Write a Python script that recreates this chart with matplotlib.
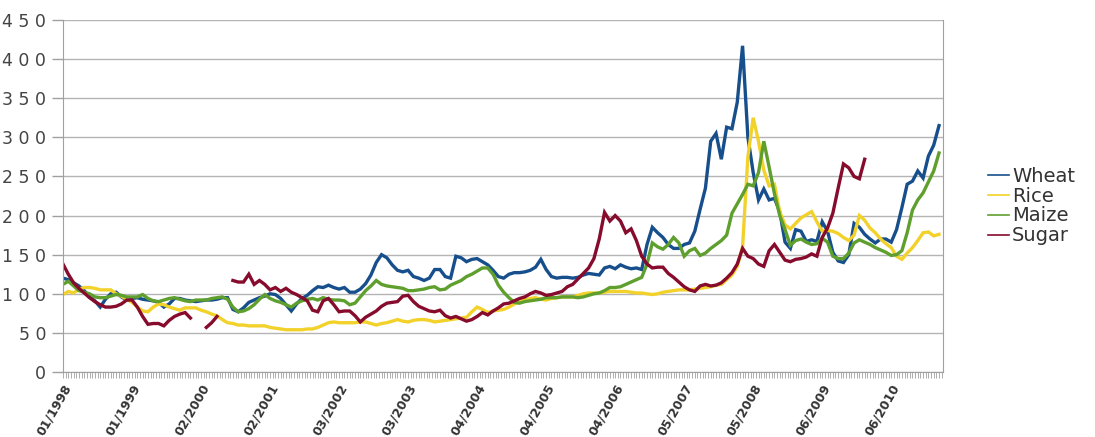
import numpy as np
import matplotlib
matplotlib.use("Agg")
import matplotlib.pyplot as plt

# weekly index (one sample every 4 weeks), week 0 = first week of 1998
weeks = list(range(0, 664, 4))
nan = float("nan")

wheat = [120, 118, 114, 110, 104, 96, 91, 83, 93, 100, 102, 96, 92, 94, 95, 93, 92, 91, 89, 83,
         87, 94, 94, 92, 91, 90, 91, 92, 92, 93, 95, 95, 80, 77, 82, 89, 92, 95, 97, 100,
         99, 94, 86, 78, 87, 94, 98, 104, 109, 108, 111, 108, 106, 108, 102, 102, 106, 113, 124, 140,
         150, 146, 137, 130, 128, 130, 122, 120, 117, 120, 131, 131, 122, 120, 148, 146, 141, 144, 145, 141,
         137, 130, 122, 120, 125, 127, 127, 128, 130, 134, 144, 131, 122, 120, 121, 121, 120, 121, 124, 126,
         125, 124, 133, 135, 132, 137, 134, 132, 133, 131, 163, 185, 178, 172, 163, 158, 158, 163, 165, 180,
         208, 235, 295, 305, 272, 313, 311, 345, 417, 300, 255, 220, 234, 220, 222, 205, 166, 158, 182, 180,
         167, 169, 167, 192, 180, 153, 142, 140, 150, 190, 185, 176, 170, 165, 170, 170, 166, 182, 210, 240,
         244, 257, 248, 276, 290, 315]

rice = [99, 103, 101, 106, 108, 108, 107, 105, 105, 105, 100, 97, 93, 89, 83, 78, 77, 83, 87, 86,
        83, 81, 79, 82, 82, 82, 79, 77, 74, 72, 67, 63, 62, 60, 60, 59, 59, 59, 59, 57,
        56, 55, 54, 54, 54, 54, 55, 55, 57, 60, 63, 64, 63, 63, 63, 63, 64, 64, 62, 60,
        62, 63, 65, 67, 65, 64, 66, 67, 67, 66, 64, 65, 66, 67, 68, 69, 70, 77, 83, 80,
        76, 78, 79, 80, 83, 87, 90, 92, 94, 95, 93, 92, 94, 95, 96, 96, 96, 98, 100, 101,
        101, 101, 102, 103, 103, 103, 103, 102, 101, 101, 100, 99, 100, 102, 103, 104, 105, 105, 105, 106,
        107, 108, 109, 111, 112, 118, 124, 135, 160, 275, 325, 295, 258, 238, 240, 205, 188, 183, 190, 197,
        201, 205, 192, 180, 181, 180, 177, 172, 168, 175, 200, 194, 184, 178, 170, 164, 159, 148, 144, 152,
        159, 168, 178, 179, 174, 176]

maize = [112, 116, 110, 104, 102, 100, 96, 95, 95, 97, 99, 98, 96, 96, 96, 99, 94, 91, 90, 92,
         94, 95, 93, 91, 90, 92, 92, 92, 94, 95, 96, 93, 83, 77, 78, 81, 86, 93, 99, 94,
         91, 89, 86, 83, 88, 91, 93, 94, 92, 95, 93, 92, 92, 91, 86, 88, 96, 104, 110, 117,
         112, 110, 109, 108, 107, 104, 104, 105, 106, 108, 109, 105, 106, 111, 114, 117, 122, 125, 129, 133,
         133, 125, 111, 102, 95, 89, 88, 90, 91, 92, 93, 95, 95, 95, 96, 96, 96, 95, 96, 98,
         100, 101, 104, 108, 108, 109, 112, 115, 118, 121, 138, 165, 160, 157, 163, 172, 165, 148, 155, 158,
         149, 152, 158, 163, 168, 175, 203, 215, 227, 240, 238, 255, 295, 262, 228, 200, 182, 162, 168, 170,
         166, 163, 164, 171, 166, 148, 145, 145, 152, 165, 169, 166, 163, 159, 156, 153, 149, 150, 155, 178,
         207, 220, 229, 243, 257, 280]

sugar = [138, 125, 114, 107, 101, 95, 90, 86, 83, 83, 84, 87, 92, 92, 83, 71, 61, 62, 62, 59,
         66, 71, 74, 76, 69, nan, nan, 57, 63, 71, nan, nan, 117, 115, 115, 125, 112, 117, 112, 105,
         108, 103, 107, 102, 99, 95, 91, 79, 77, 91, 94, 86, 77, 78, 78, 72, 64, 70, 74, 78,
         84, 88, 89, 90, 97, 98, 90, 84, 81, 78, 77, 79, 72, 69, 71, 68, 65, 67, 71, 76,
         73, 78, 82, 87, 88, 91, 94, 96, 100, 103, 101, 98, 99, 101, 103, 109, 112, 119, 126, 133,
         145, 170, 204, 193, 200, 193, 178, 183, 168, 148, 138, 133, 134, 134, 126, 121, 115, 109, 105, 103,
         110, 112, 110, 111, 114, 120, 127, 138, 158, 148, 145, 138, 135, 155, 163, 153, 143, 141, 144, 145,
         147, 151, 148, 172, 184, 203, 235, 266, 261, 250, 247, 272, nan, nan, nan, nan, nan, nan, nan, nan,
         nan, nan, nan, nan, nan, nan]

tick_weeks = list(range(0, 625, 52))
tick_labels = ["01/1998", "01/1999", "02/2000", "02/2001", "03/2002", "03/2003", "04/2004",
               "04/2005", "04/2006", "05/2007", "05/2008", "06/2009", "06/2010"]

series = [("Wheat", wheat, "#174f8c"),
          ("Rice", rice, "#f2d22a"),
          ("Maize", maize, "#5f9f2e"),
          ("Sugar", sugar, "#860b2c")]

fig = plt.figure(figsize=(10.95, 4.37), dpi=100)
ax = fig.add_axes([63 / 1095, 65 / 437, 880 / 1095, 352 / 437])

for name, vals, col in series:
    ax.plot(weeks, vals, color=col, lw=2.4, label=name, solid_joinstyle="miter")

ax.set_xlim(0, 663)
ax.set_ylim(0, 450)
ax.set_yticks(range(0, 451, 50))
ax.set_yticklabels([" ".join(str(v)) for v in range(0, 451, 50)], fontsize=12.5, color="#444444")
ax.yaxis.grid(True, color="#b4b4b4", lw=1)
ax.set_axisbelow(True)

ax.set_xticks(tick_weeks)
ax.set_xticklabels(tick_labels, rotation=60, ha="right", rotation_mode="anchor",
                   fontsize=9, fontweight="bold", color="#333333")
ax.set_xticks(range(0, 664, 2), minor=True)
ax.tick_params(axis="x", which="both", length=4, color="#a0a0a0", width=0.6, pad=3)
ax.tick_params(axis="y", length=8, color="#a0a0a0", width=1, pad=4)

for s in ["left", "bottom", "right"]:
    ax.spines[s].set_color("#a0a0a0")
ax.spines["top"].set_visible(False)

handles, labels = ax.get_legend_handles_labels()
leg = fig.legend(handles, labels, loc="center left", bbox_to_anchor=(980 / 1095, 1 - 206 / 437),
                 frameon=False, fontsize=14, handlelength=1.1, handletextpad=0.15,
                 labelspacing=0.05, borderaxespad=0)
for h in leg.get_lines():
    h.set_linewidth(1.2)
for t in leg.get_texts():
    t.set_color("#333333")

fig.savefig("out.png", dpi=100)
